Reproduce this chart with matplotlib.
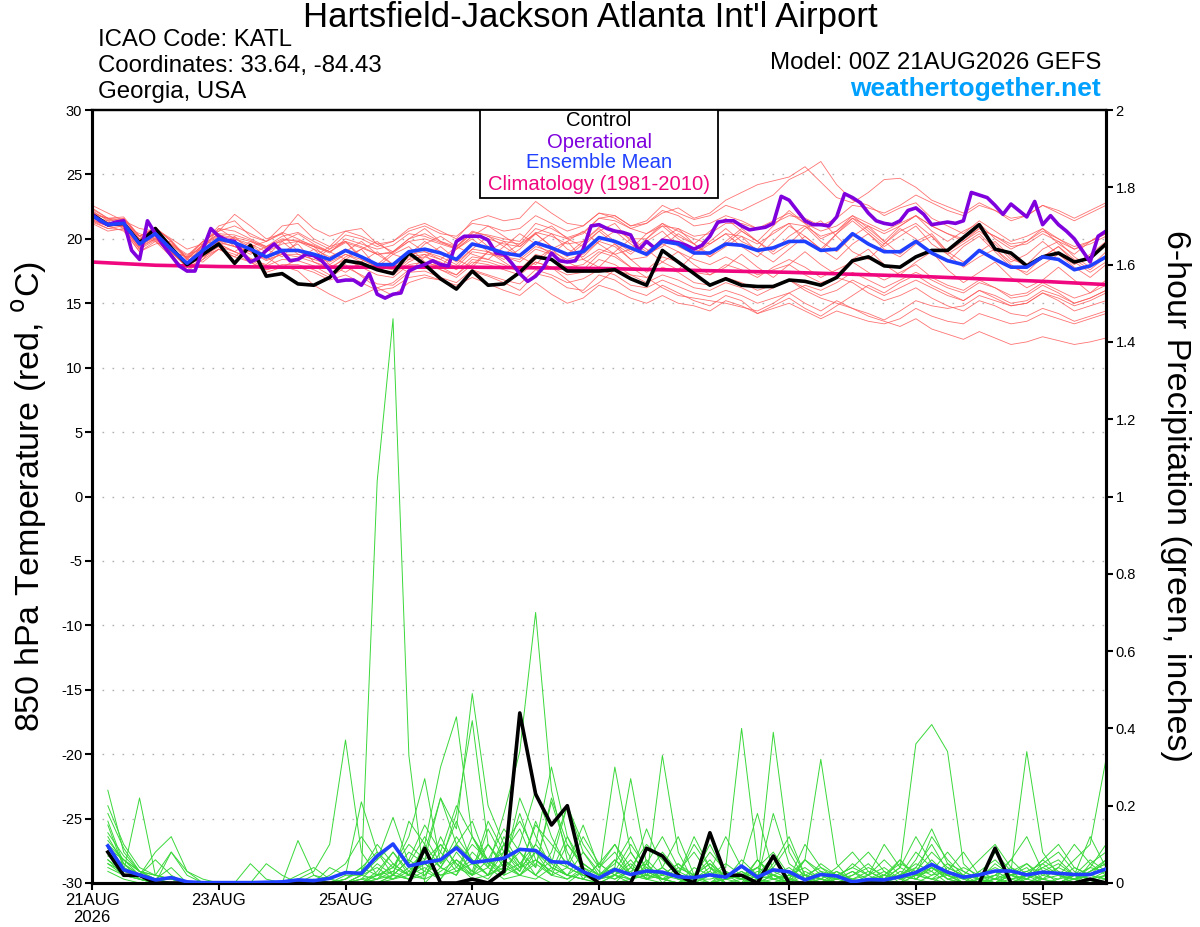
import numpy as np
import matplotlib
matplotlib.use("Agg")
import matplotlib.pyplot as plt
from matplotlib.patches import Rectangle

plt.rcParams["font.family"] = ["Liberation Sans", "DejaVu Sans"]
plt.rcParams["axes.unicode_minus"] = False

# ---- data, read off the GEFS plume for KATL, 00Z 21AUG2026 ----
# time in days from 00Z 21AUG, 6-hourly (ensemble) and 3-hourly (operational)
t6 = np.arange(65) * 0.25
t3 = np.arange(129) * 0.125
tp = t6[1:]
clim_days = np.arange(17)

date_ticks = [0, 2, 4, 6, 8, 11, 13, 15]
date_labels = ["21AUG\n2026", "23AUG", "25AUG", "27AUG", "29AUG", "1SEP", "3SEP", "5SEP"]

ens_mean_t = [21.8, 21.1, 21.2, 19.6, 20.4, 19.2, 18.1, 19.1, 20.0, 19.7, 19.2, 18.6, 19.1,
              19.1, 18.8, 18.4, 19.1, 18.6, 18.0, 18.0, 19.0, 19.2, 18.9, 18.4, 19.6, 19.3,
              18.9, 18.7, 19.7, 19.3, 18.8, 19.0, 20.1, 19.8, 19.3, 18.8, 19.8, 19.6, 18.9,
              18.9, 19.6, 19.5, 19.1, 19.3, 19.8, 19.8, 19.1, 19.2, 20.4, 19.6, 19.0, 19.0,
              19.8, 18.9, 18.3, 18.0, 19.1, 18.4, 17.8, 17.8, 18.6, 18.4, 17.6, 17.9, 18.6]

control_t = [21.9, 21.1, 21.2, 19.7, 20.8, 19.3, 18.0, 18.8, 19.6, 18.1, 19.5, 17.1, 17.3,
             16.5, 16.4, 17.0, 18.3, 18.1, 17.6, 17.3, 18.9, 18.0, 16.9, 16.1, 17.5, 16.4,
             16.5, 17.4, 18.6, 18.4, 17.5, 17.5, 17.5, 17.6, 16.9, 16.4, 19.1, 18.2, 17.3,
             16.4, 16.9, 16.4, 16.3, 16.3, 16.8, 16.7, 16.4, 17.0, 18.3, 18.6, 17.9, 17.8,
             18.6, 19.1, 19.1, 20.1, 21.1, 19.2, 18.9, 17.9, 18.6, 18.9, 18.2, 18.5, 19.6]

oper_t = [21.9, 21.4, 21.1, 21.3, 21.4, 19.1, 18.4, 21.4, 20.4, 19.5,
          18.7, 17.9, 17.5, 17.5, 19.2, 20.8, 20.2, 19.9, 19.8, 18.9,
          18.2, 18.5, 19.1, 19.6, 19.0, 18.3, 18.4, 18.8, 18.7, 18.3,
          17.6, 16.7, 16.8, 16.8, 16.4, 17.3, 15.7, 15.4, 15.7, 15.8,
          17.5, 17.8, 18.0, 18.3, 18.0, 17.9, 19.8, 20.2, 20.2, 20.2,
          19.9, 18.9, 18.8, 18.1, 17.3, 16.7, 17.1, 17.8, 18.9, 18.3,
          18.2, 18.3, 19.2, 21.0, 21.1, 20.8, 20.6, 20.5, 20.3, 19.1,
          19.8, 19.3, 19.9, 19.8, 19.7, 19.5, 19.2, 19.5, 20.2, 21.3,
          21.4, 21.4, 21.0, 20.7, 20.8, 20.9, 21.2, 23.3, 23.0, 22.2,
          21.4, 21.1, 21.1, 21.0, 21.7, 23.5, 23.2, 22.8, 22.0, 21.4,
          21.2, 21.1, 21.4, 22.2, 22.4, 21.9, 21.1, 21.2, 21.3, 21.2,
          21.4, 23.6, 23.4, 23.2, 22.6, 21.9, 22.7, 22.2, 21.7, 22.9,
          21.1, 21.8, 21.1, 20.6, 20.0, 19.1, 18.2, 20.2, 20.6]

clim_t = [18.2, 17.95, 17.85, 17.8, 17.8, 17.8, 17.8, 17.75, 17.7, 17.6, 17.5, 17.4,
          17.25, 17.1, 16.9, 16.7, 16.45]

members_t = [
    [22.2, 21.4, 21.6, 20.0, 20.9, 19.8, 18.4, 19.6, 20.8, 20.6, 20.0, 19.4, 20.2,
     20.5, 19.8, 19.2, 20.3, 20.0, 19.4, 19.8, 20.6, 21.0, 20.4, 20.2, 21.2, 21.0,
     20.6, 20.8, 21.8, 21.2, 20.6, 21.0, 22.0, 21.8, 21.0, 21.4, 22.6, 22.0, 21.5,
     21.8, 22.6, 22.2, 22.8, 23.4, 24.6, 25.2, 26.0, 24.2, 23.0, 22.6, 21.8, 22.4,
     22.8, 21.6, 21.0, 20.4, 21.4, 20.6, 19.8, 20.2, 20.8, 20.0, 19.2, 19.8, 20.4],
    [21.5, 21.0, 21.3, 19.9, 20.6, 19.5, 18.7, 19.8, 20.6, 21.0, 20.4, 19.8, 20.5,
     20.0, 19.4, 18.9, 20.0, 19.6, 19.2, 19.5, 20.4, 20.2, 19.7, 19.3, 20.5, 20.3,
     20.0, 19.8, 21.2, 20.8, 20.1, 20.5, 21.6, 21.4, 20.8, 21.2, 22.0, 22.4, 21.6,
     22.0, 23.0, 23.6, 24.2, 24.5, 24.8, 25.6, 24.4, 23.2, 22.8, 23.6, 24.6, 24.7,
     24.0, 23.0, 22.5, 22.0, 22.8, 22.2, 21.4, 21.8, 22.6, 22.0, 21.4, 22.0, 22.6],
    [21.3, 20.8, 20.7, 19.0, 19.8, 18.6, 17.6, 18.4, 19.2, 18.8, 18.2, 17.6, 18.0,
     18.0, 17.6, 17.0, 17.8, 17.2, 16.5, 16.4, 17.4, 17.5, 17.0, 16.6, 17.6, 17.2,
     16.8, 16.5, 17.6, 17.2, 16.6, 16.9, 17.6, 17.2, 16.4, 16.2, 16.8, 16.3, 15.8,
     15.5, 16.0, 15.6, 15.0, 15.4, 15.8, 15.0, 14.4, 15.2, 14.6, 14.0, 13.6, 13.2,
     13.8, 13.0, 12.6, 12.2, 12.8, 12.3, 11.8, 12.0, 12.4, 12.1, 11.8, 12.0, 12.3],
    [21.6, 21.3, 20.9, 19.3, 20.0, 18.9, 17.9, 18.6, 19.4, 19.0, 18.5, 17.9, 18.4,
     18.3, 17.9, 17.2, 18.0, 17.1, 16.2, 15.6, 16.6, 17.0, 16.8, 16.2, 17.5, 17.1,
     16.6, 16.0, 17.3, 17.0, 16.2, 16.0, 17.2, 16.8, 16.0, 15.6, 16.4, 15.8, 15.2,
     14.8, 15.6, 15.2, 14.2, 14.8, 15.4, 14.6, 14.0, 14.8, 15.6, 16.4, 15.8, 16.6,
     17.2, 16.4, 15.8, 15.2, 16.0, 15.4, 14.8, 15.0, 15.8, 15.2, 14.4, 14.8, 15.2],
    [22.0, 21.6, 21.0, 20.4, 20.0, 19.0, 18.6, 18.8, 19.4, 20.2, 19.0, 18.6, 19.8,
     20.4, 19.6, 19.0, 18.4, 19.2, 19.8, 18.8, 18.4, 19.6, 20.2, 19.4, 18.8, 18.4,
     19.4, 20.4, 19.6, 18.8, 19.8, 20.6, 19.6, 18.8, 19.2, 20.4, 21.0, 20.0, 19.2,
     18.6, 19.8, 20.8, 19.8, 18.8, 19.6, 20.8, 21.4, 20.2, 19.0, 18.4, 19.6, 20.8,
     20.0, 18.8, 18.2, 19.4, 20.2, 19.0, 17.8, 17.4, 18.6, 19.4, 18.2, 17.4, 18.2],
    [21.4, 21.0, 20.6, 19.0, 19.6, 19.8, 18.4, 18.2, 19.2, 18.6, 19.6, 18.6, 17.8,
     18.4, 19.2, 18.0, 17.4, 18.2, 19.0, 18.0, 17.4, 18.6, 19.4, 18.4, 17.8, 19.0,
     19.8, 18.6, 18.0, 19.2, 19.8, 18.4, 17.8, 19.0, 20.0, 19.2, 18.2, 17.6, 18.8,
     19.6, 20.4, 19.4, 18.6, 19.8, 21.0, 20.2, 19.2, 20.4, 21.6, 20.6, 19.6, 20.6,
     21.2, 20.2, 19.0, 19.8, 20.6, 19.6, 18.4, 18.0, 19.2, 19.8, 18.6, 17.8, 19.0],
    [22.4, 21.6, 21.5, 20.2, 20.8, 19.9, 18.5, 19.8, 20.6, 21.9, 21.0, 20.0, 20.4,
     21.9, 20.8, 20.2, 20.6, 20.2, 19.6, 19.8, 20.8, 21.2, 20.6, 20.0, 21.4, 21.8,
     21.4, 21.6, 22.9, 22.0, 21.2, 21.0, 22.0, 21.6, 20.8, 20.4, 21.2, 20.6, 20.0,
     19.6, 20.4, 20.2, 19.6, 20.4, 21.2, 21.0, 20.2, 20.6, 21.6, 21.0, 20.4, 21.0,
     21.8, 21.0, 20.4, 19.8, 20.8, 20.2, 19.4, 19.6, 20.4, 19.8, 19.2, 19.6, 20.2],
    [21.7, 21.4, 20.8, 19.2, 20.6, 19.4, 17.8, 18.4, 19.8, 19.8, 18.4, 18.0, 19.0,
     19.6, 18.2, 17.6, 18.6, 19.2, 17.8, 17.2, 18.2, 18.8, 17.6, 17.0, 18.0, 19.0,
     18.2, 17.4, 18.4, 19.2, 18.2, 17.6, 18.8, 19.6, 18.4, 17.4, 18.2, 19.0, 18.0,
     17.2, 17.8, 18.8, 17.8, 17.0, 18.0, 19.0, 18.0, 17.2, 18.4, 19.2, 18.0, 17.2,
     18.2, 19.0, 17.6, 16.6, 17.4, 18.2, 17.0, 16.2, 16.8, 17.8, 16.8, 15.8, 16.8],
    [21.9, 21.0, 21.1, 19.5, 20.2, 19.0, 17.8, 18.8, 19.6, 19.0, 18.4, 17.6, 17.9,
     17.5, 16.4, 15.7, 15.1, 15.6, 16.2, 16.6, 17.6, 18.0, 17.6, 17.2, 18.4, 18.2,
     17.8, 17.6, 18.8, 18.4, 17.8, 18.0, 19.0, 18.6, 17.8, 17.6, 18.6, 18.2, 17.4,
     17.2, 18.0, 17.6, 17.0, 17.8, 18.4, 17.8, 17.0, 17.6, 18.2, 17.4, 16.8, 17.4,
     18.0, 17.0, 16.4, 16.0, 16.8, 16.2, 15.4, 15.6, 16.4, 15.8, 15.0, 15.4, 16.0],
    [22.6, 22.0, 21.4, 20.8, 20.6, 19.6, 18.8, 19.2, 20.8, 20.0, 19.4, 19.8, 20.4,
     19.0, 18.6, 19.4, 19.8, 18.6, 18.0, 19.0, 19.8, 19.0, 18.4, 19.4, 20.4, 19.4,
     18.8, 19.6, 20.4, 19.4, 18.8, 19.8, 20.8, 19.8, 19.0, 20.0, 21.2, 20.2, 19.6,
     20.6, 21.6, 20.6, 19.8, 21.0, 22.2, 21.2, 20.0, 20.6, 21.8, 20.8, 19.8, 21.0,
     21.8, 20.6, 19.8, 20.6, 21.2, 20.0, 19.2, 19.8, 20.8, 19.6, 18.8, 19.8, 20.6],
    [21.2, 20.6, 20.8, 19.2, 19.9, 18.8, 17.4, 18.6, 19.2, 18.6, 18.2, 17.4, 17.8,
     17.8, 17.4, 16.8, 17.2, 16.6, 16.0, 16.2, 17.0, 17.2, 16.8, 16.4, 17.0, 16.5,
     16.0, 15.6, 16.6, 15.7, 15.0, 15.4, 16.4, 16.0, 15.4, 15.0, 15.6, 15.0, 14.8,
     14.4, 15.2, 14.8, 14.2, 14.6, 15.0, 14.4, 13.8, 14.4, 14.0, 13.6, 13.4, 13.8,
     14.6, 14.0, 13.6, 13.4, 14.2, 13.8, 13.4, 13.6, 14.2, 13.8, 13.4, 13.8, 14.2],
    [21.9, 21.0, 21.6, 20.2, 19.8, 19.0, 18.6, 19.8, 19.6, 19.0, 19.8, 19.2, 18.6,
     19.8, 19.4, 18.4, 19.0, 19.8, 18.8, 18.0, 18.8, 19.8, 19.0, 18.2, 19.2, 20.2,
     19.4, 18.6, 19.6, 20.4, 19.2, 18.6, 19.8, 20.6, 19.6, 18.8, 19.4, 20.4, 19.6,
     18.8, 19.6, 20.6, 19.8, 19.0, 20.2, 21.0, 19.8, 19.0, 20.2, 21.0, 19.8, 18.8,
     19.8, 20.4, 19.0, 18.2, 19.0, 19.8, 18.6, 17.8, 18.6, 19.4, 18.4, 17.6, 18.6],
    [21.5, 21.0, 21.0, 19.7, 20.4, 19.3, 18.2, 19.4, 20.2, 20.0, 19.6, 19.0, 19.6,
     19.8, 19.2, 18.6, 19.2, 18.6, 17.8, 17.6, 18.6, 18.8, 18.4, 17.8, 19.0, 18.8,
     18.6, 18.4, 19.4, 19.0, 18.4, 18.8, 19.8, 19.4, 18.4, 18.6, 19.6, 19.0, 18.4,
     18.0, 18.6, 18.0, 17.2, 17.6, 18.0, 17.2, 16.6, 17.0, 16.6, 15.8, 15.2, 15.6,
     16.2, 15.4, 14.8, 14.4, 15.2, 14.8, 14.2, 14.0, 14.6, 14.2, 13.6, 14.0, 14.4],
    [22.1, 21.5, 21.4, 20.0, 20.7, 19.6, 18.4, 19.5, 20.3, 20.1, 19.8, 19.4, 20.0,
     19.8, 19.4, 19.0, 19.8, 19.4, 18.8, 19.0, 20.0, 20.4, 19.8, 19.4, 20.6, 20.2,
     19.8, 19.6, 20.8, 20.4, 20.0, 20.4, 21.6, 21.8, 21.0, 21.2, 22.2, 21.8, 21.0,
     21.2, 21.8, 21.4, 20.8, 21.4, 22.0, 21.2, 20.6, 21.0, 21.8, 21.2, 20.6, 21.2,
     21.8, 21.0, 20.4, 20.0, 20.8, 20.2, 19.6, 19.8, 20.6, 20.0, 19.4, 19.8, 20.4],
    [21.6, 21.1, 21.0, 19.5, 20.1, 19.0, 17.9, 18.9, 19.7, 19.4, 19.0, 18.4, 18.8,
     18.8, 18.4, 18.0, 18.8, 18.2, 17.6, 17.4, 18.4, 18.6, 18.2, 17.6, 18.6, 18.4,
     18.0, 17.4, 18.2, 17.8, 16.8, 15.8, 16.6, 17.6, 17.2, 16.6, 17.2, 16.8, 16.2,
     16.0, 16.6, 16.2, 15.6, 16.2, 16.8, 16.2, 15.6, 16.0, 16.8, 16.2, 15.6, 16.2,
     16.8, 16.2, 15.6, 15.2, 16.0, 15.6, 15.0, 15.2, 16.0, 15.6, 15.0, 15.4, 16.0],
    [21.8, 21.2, 21.0, 19.4, 20.8, 19.0, 17.8, 19.6, 20.4, 19.4, 18.8, 19.4, 19.8,
     18.8, 18.4, 19.2, 19.8, 18.4, 17.8, 18.8, 19.4, 18.2, 17.8, 19.2, 20.0, 19.0,
     18.4, 19.2, 20.4, 19.4, 18.6, 19.6, 20.6, 19.6, 18.8, 19.8, 20.6, 19.4, 18.8,
     19.8, 20.8, 19.8, 19.2, 20.6, 21.2, 19.8, 19.0, 20.4, 21.4, 20.4, 19.4, 20.2,
     21.0, 19.6, 18.8, 19.6, 20.4, 19.2, 18.2, 18.8, 19.8, 18.8, 18.0, 18.8, 19.8],
    [21.7, 21.0, 21.2, 19.6, 20.3, 19.2, 18.1, 19.0, 19.9, 19.6, 19.0, 18.5, 19.0,
     19.0, 18.6, 18.2, 18.8, 18.4, 17.8, 17.8, 18.8, 19.0, 18.6, 18.0, 19.2, 19.0,
     18.6, 18.2, 19.2, 18.8, 18.2, 18.4, 19.2, 18.8, 17.8, 17.0, 16.2, 15.6, 15.4,
     15.2, 15.0, 14.7, 14.4, 15.0, 15.8, 16.4, 16.0, 16.6, 17.4, 16.8, 16.2, 16.8,
     17.4, 16.8, 16.2, 15.8, 16.6, 16.2, 15.6, 15.8, 16.6, 16.0, 15.4, 15.8, 16.4],
    [22.3, 21.6, 21.7, 20.2, 20.9, 19.8, 18.5, 19.5, 20.4, 20.3, 19.9, 19.3, 19.9,
     19.9, 19.5, 19.0, 19.7, 19.3, 18.8, 18.9, 19.8, 20.0, 19.6, 19.2, 20.2, 20.0,
     19.6, 19.4, 20.5, 20.2, 19.6, 19.8, 20.9, 20.7, 20.0, 20.0, 21.0, 20.8, 20.2,
     20.4, 21.2, 21.2, 20.8, 21.2, 21.8, 21.6, 21.0, 21.6, 22.6, 22.4, 22.0, 22.6,
     23.4, 22.8, 22.2, 21.8, 22.6, 22.2, 21.6, 21.8, 22.6, 22.2, 21.6, 22.2, 22.8],
    [21.4, 20.8, 21.0, 19.4, 20.0, 19.0, 17.8, 18.9, 19.8, 19.4, 19.0, 18.3, 18.8,
     18.6, 18.2, 17.8, 18.4, 17.8, 17.2, 17.0, 18.0, 18.2, 17.8, 17.2, 18.2, 18.0,
     17.6, 17.2, 18.2, 17.8, 17.2, 17.4, 18.4, 18.0, 17.2, 17.0, 17.8, 17.4, 16.6,
     16.4, 17.0, 16.6, 16.0, 16.4, 16.8, 16.0, 15.4, 15.0, 14.6, 14.2, 13.7, 14.4,
     15.2, 14.8, 14.6, 14.8, 15.6, 15.2, 14.8, 15.0, 15.8, 15.4, 14.8, 15.2, 15.8],
    [21.9, 21.6, 21.0, 20.2, 20.8, 20.0, 19.2, 19.6, 21.0, 21.4, 20.2, 19.8, 21.0,
     21.2, 20.0, 19.4, 20.6, 20.8, 19.6, 19.0, 20.0, 20.8, 19.8, 19.2, 20.2, 21.0,
     20.2, 19.4, 20.4, 21.0, 20.0, 19.4, 20.6, 21.2, 19.8, 19.0, 20.0, 20.8, 19.6,
     18.6, 19.4, 20.2, 19.0, 18.2, 19.2, 20.2, 19.2, 18.4, 19.6, 20.4, 19.2, 18.6,
     19.6, 20.2, 18.8, 17.8, 18.6, 19.2, 18.0, 17.2, 18.0, 18.8, 17.8, 17.0, 18.0],
]

# 6-hour precipitation (inches), first value is 06Z 21AUG
ens_mean_p = [0.096, 0.034, 0.021, 0.008, 0.014, 0.003, 0.001, 0.001, 0.001, 0.001, 0.002, 0.003, 0.008, 0.006, 0.012, 0.027,
              0.025, 0.070, 0.101, 0.044, 0.053, 0.060, 0.091, 0.053, 0.058, 0.064, 0.087, 0.084, 0.055, 0.053, 0.029, 0.013,
              0.035, 0.022, 0.031, 0.028, 0.016, 0.014, 0.021, 0.015, 0.044, 0.015, 0.034, 0.029, 0.008, 0.022, 0.018, 0.003,
              0.009, 0.008, 0.016, 0.027, 0.048, 0.028, 0.015, 0.021, 0.031, 0.031, 0.021, 0.028, 0.025, 0.022, 0.022, 0.036]

control_p = [0.08, 0.02, 0.02, 0, 0, 0, 0, 0, 0, 0, 0, 0, 0, 0, 0, 0,
             0, 0, 0, 0, 0.09, 0, 0, 0.01, 0, 0.03, 0.44, 0.23, 0.15, 0.20, 0.03, 0,
             0, 0, 0.09, 0.07, 0.02, 0, 0.13, 0.02, 0.02, 0, 0.07, 0, 0, 0, 0, 0,
             0, 0, 0, 0, 0, 0, 0, 0, 0.09, 0, 0, 0, 0, 0, 0.01, 0]

members_p = [
    [0.06, 0.02, 0.01, 0, 0, 0, 0, 0, 0, 0, 0, 0, 0, 0, 0, 0.02,
     0.02, 1.04, 1.46, 0.33, 0, 0.04, 0.10, 0.06, 0.02, 0.12, 0.05, 0.02, 0, 0, 0.03, 0,
     0.02, 0, 0.05, 0, 0, 0.01, 0.03, 0, 0, 0.06, 0.02, 0, 0, 0.01, 0, 0,
     0, 0, 0.02, 0.05, 0.03, 0, 0, 0.01, 0, 0.02, 0.04, 0, 0, 0.01, 0, 0.02],
    [0.10, 0.04, 0.02, 0.01, 0, 0, 0, 0, 0, 0, 0, 0, 0, 0, 0, 0,
     0, 0, 0.02, 0.06, 0.15, 0.08, 0.20, 0.12, 0.04, 0.18, 0.34, 0.70, 0.24, 0.06, 0.02, 0,
     0, 0.04, 0.10, 0.06, 0.02, 0, 0, 0.03, 0.01, 0, 0.05, 0.12, 0.02, 0, 0, 0.01,
     0.02, 0, 0, 0.04, 0.10, 0.03, 0, 0, 0.01, 0.06, 0.02, 0, 0, 0, 0.03, 0.05],
    [0.24, 0.08, 0.03, 0.01, 0, 0, 0, 0, 0, 0, 0, 0, 0.01, 0.03, 0.10, 0.37,
     0.08, 0.02, 0.04, 0.12, 0.27, 0.05, 0.10, 0.02, 0.06, 0.14, 0.08, 0.04, 0.22, 0.10, 0.05, 0.02,
     0.30, 0.08, 0.02, 0.01, 0, 0.02, 0.05, 0.01, 0, 0.02, 0.07, 0.01, 0, 0, 0.03, 0,
     0, 0.02, 0.06, 0.01, 0, 0.03, 0.08, 0.02, 0, 0, 0.01, 0.04, 0.02, 0, 0.05, 0.08],
    [0.08, 0.03, 0.22, 0.02, 0.01, 0, 0, 0, 0, 0, 0, 0, 0, 0, 0.02, 0.05,
     0.12, 0.06, 0.10, 0.04, 0.08, 0.22, 0.14, 0.49, 0.20, 0.10, 0.16, 0.08, 0.05, 0.20, 0.08, 0.02,
     0.04, 0.27, 0.05, 0.01, 0.02, 0.10, 0.04, 0, 0, 0.01, 0.02, 0, 0.06, 0.03, 0, 0,
     0.01, 0, 0.02, 0.08, 0.04, 0.01, 0, 0, 0.02, 0.06, 0.12, 0.03, 0, 0.01, 0.02, 0.01],
    [0.12, 0.05, 0.02, 0.08, 0.12, 0.03, 0, 0, 0, 0, 0, 0, 0, 0.01, 0, 0.01,
     0.04, 0.08, 0.02, 0.16, 0.10, 0.30, 0.43, 0.12, 0.05, 0.08, 0.04, 0.15, 0.10, 0.05, 0.15, 0.04,
     0.10, 0.02, 0.01, 0.33, 0.08, 0, 0.02, 0.04, 0.40, 0.06, 0.01, 0, 0.02, 0, 0.01, 0.03,
     0, 0.01, 0.06, 0.02, 0.01, 0, 0, 0.03, 0.01, 0, 0.02, 0.06, 0.10, 0.04, 0.02, 0.01],
    [0.05, 0.02, 0.01, 0, 0.08, 0.02, 0, 0, 0, 0.05, 0.01, 0, 0.11, 0.02, 0, 0,
     0.02, 0.06, 0.17, 0.05, 0.12, 0.05, 0.18, 0.42, 0.10, 0.04, 0.22, 0.12, 0.04, 0.02, 0.01, 0.05,
     0.02, 0.05, 0.01, 0.04, 0.12, 0.02, 0, 0.01, 0.03, 0, 0.39, 0.08, 0.01, 0.02, 0, 0,
     0.01, 0.03, 0.01, 0.06, 0.14, 0.05, 0.01, 0, 0, 0.02, 0.03, 0.01, 0, 0.02, 0.06, 0.03],
    [0.15, 0.04, 0.01, 0, 0, 0, 0, 0, 0, 0, 0, 0, 0, 0, 0.04, 0.02,
     0.21, 0.08, 0.04, 0.10, 0.06, 0.22, 0.10, 0.16, 0.05, 0.02, 0.10, 0.24, 0.12, 0.04, 0.02, 0.01,
     0.06, 0.02, 0.14, 0.04, 0.01, 0, 0, 0.02, 0.01, 0, 0.02, 0.01, 0.06, 0.32, 0.05, 0,
     0, 0, 0.02, 0.01, 0.04, 0.02, 0, 0.01, 0.08, 0.03, 0, 0, 0.01, 0.02, 0.12, 0.04],
    [0.20, 0.10, 0.04, 0.02, 0.01, 0, 0, 0, 0, 0, 0, 0, 0, 0, 0, 0,
     0, 0.03, 0.08, 0.02, 0.04, 0.01, 0.06, 0.03, 0.16, 0.08, 0.14, 0.04, 0.21, 0.08, 0.01, 0,
     0.02, 0.06, 0.01, 0, 0.03, 0.08, 0.02, 0, 0.01, 0.04, 0.02, 0, 0, 0.02, 0.01, 0.05,
     0.02, 0.10, 0.04, 0.36, 0.41, 0.34, 0.05, 0.01, 0, 0.02, 0.05, 0.01, 0.04, 0.02, 0, 0.01],
    [0.06, 0.03, 0.02, 0.01, 0.04, 0, 0, 0, 0, 0, 0, 0, 0, 0, 0, 0.01,
     0.03, 0.10, 0.05, 0.02, 0.08, 0.04, 0.12, 0.06, 0.02, 0.05, 0.18, 0.06, 0.03, 0.12, 0.05, 0.02,
     0.01, 0.03, 0.05, 0.12, 0.04, 0.02, 0.10, 0.02, 0, 0.01, 0.18, 0.05, 0.02, 0.01, 0, 0.02,
     0.05, 0.01, 0.04, 0.02, 0.12, 0.06, 0.02, 0.01, 0, 0.03, 0.34, 0.08, 0.02, 0.01, 0.03, 0.05],
    [0.09, 0.06, 0.03, 0.01, 0, 0, 0, 0, 0, 0, 0, 0, 0, 0, 0, 0,
     0.01, 0.02, 0.03, 0.08, 0.05, 0.02, 0.04, 0.10, 0.06, 0.03, 0.05, 0.10, 0.30, 0.12, 0.03, 0.01,
     0.03, 0.10, 0.04, 0.02, 0.05, 0.01, 0.01, 0.02, 0.04, 0.18, 0.03, 0.01, 0, 0, 0.02, 0.04,
     0.08, 0.03, 0, 0.02, 0.06, 0.02, 0, 0.01, 0.05, 0.02, 0.01, 0.03, 0.02, 0.06, 0.10, 0.32],
    [0.04, 0.02, 0.01, 0, 0, 0, 0, 0, 0, 0, 0, 0, 0, 0, 0, 0,
     0, 0.01, 0.02, 0.01, 0.03, 0.01, 0.08, 0.03, 0.01, 0.06, 0.02, 0.01, 0.04, 0.02, 0.01, 0,
     0, 0.01, 0.02, 0.01, 0, 0.04, 0.02, 0, 0, 0.02, 0.01, 0, 0.03, 0.01, 0, 0,
     0, 0.01, 0.02, 0.01, 0.05, 0.02, 0, 0, 0.01, 0.02, 0.01, 0, 0, 0.02, 0.01, 0],
    [0.07, 0.05, 0.02, 0.06, 0.02, 0, 0, 0, 0, 0, 0, 0, 0.02, 0.04, 0.01, 0,
     0.02, 0.01, 0.05, 0.02, 0.10, 0.04, 0.02, 0.08, 0.04, 0.10, 0.05, 0.02, 0.08, 0.20, 0.10, 0.04,
     0.08, 0.02, 0.04, 0.01, 0.02, 0.12, 0.04, 0.01, 0.06, 0.02, 0.04, 0.10, 0.02, 0.01, 0.04, 0.08,
     0.03, 0.01, 0.04, 0.12, 0.05, 0.01, 0.02, 0.06, 0.10, 0.04, 0.01, 0.05, 0.08, 0.03, 0.01, 0.02],
    [0.11, 0.06, 0.02, 0.01, 0.01, 0, 0, 0, 0, 0, 0, 0, 0, 0, 0, 0.01,
     0.04, 0.02, 0.08, 0.03, 0.01, 0.12, 0.04, 0.02, 0.10, 0.05, 0.02, 0.06, 0.03, 0.01, 0.04, 0.02,
     0.05, 0.12, 0.03, 0.01, 0, 0.02, 0.05, 0.02, 0.01, 0.06, 0.02, 0.04, 0.01, 0, 0.01, 0.03,
     0.01, 0.02, 0.01, 0.03, 0.08, 0.04, 0.02, 0, 0.01, 0.03, 0.05, 0.02, 0.01, 0.04, 0.02, 0.06],
    [0.03, 0.01, 0, 0, 0, 0, 0, 0, 0, 0, 0, 0, 0, 0, 0, 0,
     0, 0, 0.01, 0.04, 0.02, 0.06, 0.16, 0.05, 0.10, 0.04, 0.08, 0.02, 0.06, 0.04, 0.02, 0.01,
     0.02, 0.01, 0.06, 0.02, 0.01, 0, 0.02, 0.05, 0.02, 0, 0.01, 0.02, 0.04, 0.01, 0, 0,
     0.01, 0, 0.03, 0.02, 0.01, 0.04, 0.02, 0.01, 0, 0.01, 0.02, 0.03, 0.05, 0.02, 0.01, 0.03],
    [0.13, 0.07, 0.03, 0.02, 0.08, 0.03, 0.01, 0, 0, 0, 0, 0, 0, 0, 0, 0,
     0.01, 0.05, 0.02, 0.01, 0.06, 0.10, 0.05, 0.02, 0.14, 0.06, 0.03, 0.10, 0.05, 0.02, 0.08, 0.03,
     0.01, 0.04, 0.02, 0.08, 0.03, 0.01, 0, 0.01, 0.03, 0.01, 0, 0.02, 0.06, 0.02, 0.01, 0,
     0.02, 0.04, 0.01, 0, 0.02, 0.05, 0.03, 0.01, 0.02, 0.01, 0, 0.02, 0.04, 0.10, 0.05, 0.02],
    [0.18, 0.09, 0.03, 0.01, 0, 0, 0, 0, 0, 0, 0, 0, 0, 0, 0, 0,
     0, 0.02, 0.04, 0.02, 0.01, 0.03, 0.06, 0.02, 0.04, 0.01, 0.02, 0.05, 0.02, 0.10, 0.04, 0.01,
     0.03, 0.01, 0.02, 0.04, 0.01, 0.02, 0.08, 0.03, 0.01, 0, 0.02, 0.01, 0, 0.01, 0.03, 0.01,
     0, 0.01, 0, 0.02, 0.04, 0.01, 0, 0.03, 0.06, 0.02, 0, 0.01, 0.02, 0.01, 0.04, 0.10],
    [0.05, 0.03, 0.02, 0.01, 0.01, 0, 0, 0, 0, 0, 0.05, 0.02, 0, 0, 0, 0,
     0.01, 0, 0.02, 0.06, 0.03, 0.10, 0.05, 0.01, 0.02, 0.08, 0.03, 0.16, 0.06, 0.02, 0.01, 0.05,
     0.10, 0.04, 0.01, 0.02, 0.05, 0.02, 0, 0.01, 0.02, 0.04, 0.01, 0.02, 0.01, 0.05, 0.02, 0,
     0.01, 0.02, 0.05, 0.03, 0.01, 0.02, 0.04, 0.02, 0.01, 0, 0.02, 0.06, 0.03, 0.01, 0.02, 0.04],
    [0.09, 0.04, 0.01, 0, 0, 0, 0, 0, 0, 0, 0, 0, 0, 0.02, 0.01, 0,
     0.02, 0.04, 0.01, 0.02, 0.05, 0.02, 0.03, 0.06, 0.02, 0.10, 0.04, 0.06, 0.02, 0.04, 0.12, 0.05,
     0.02, 0.01, 0.03, 0.01, 0.02, 0.01, 0.03, 0.12, 0.04, 0.01, 0, 0.01, 0.02, 0.04, 0.01, 0.02,
     0.04, 0.02, 0.01, 0.02, 0.03, 0.08, 0.03, 0.01, 0.02, 0.04, 0.02, 0.01, 0, 0.02, 0.01, 0.02],
    [0.16, 0.05, 0.01, 0, 0, 0, 0, 0, 0, 0, 0, 0, 0, 0, 0, 0,
     0, 0.01, 0.03, 0.01, 0.02, 0.08, 0.03, 0.05, 0.02, 0.04, 0.02, 0.08, 0.04, 0.02, 0.05, 0.02,
     0.06, 0.02, 0.01, 0.03, 0.02, 0.01, 0.04, 0.02, 0.01, 0.03, 0.02, 0.01, 0.10, 0.04, 0.02, 0.01,
     0.03, 0.01, 0.02, 0.04, 0.02, 0.03, 0.01, 0.02, 0.04, 0.02, 0.03, 0.05, 0.02, 0.01, 0.03, 0.06],
    [0.10, 0.06, 0.03, 0.02, 0.01, 0, 0, 0, 0, 0, 0, 0, 0, 0, 0, 0,
     0, 0.02, 0.01, 0.03, 0.08, 0.04, 0.02, 0.12, 0.06, 0.02, 0.04, 0.08, 0.02, 0.01, 0.03, 0.01,
     0.02, 0.08, 0.02, 0.01, 0.04, 0.02, 0.06, 0.01, 0.02, 0.04, 0.08, 0.02, 0.01, 0.03, 0.02, 0.04,
     0.02, 0.06, 0.02, 0.01, 0.04, 0.02, 0.01, 0.02, 0.03, 0.01, 0.02, 0.04, 0.06, 0.02, 0.04, 0.03],
]

# ---- figure ----
fig = plt.figure(figsize=(12, 9.27), dpi=100)
ax = fig.add_axes([92 / 1200, 1 - 883 / 927, (1106 - 92) / 1200, (883 - 110) / 927])
axp = ax.twinx()

red = "#ff5a5a"
green = "#3ad83a"

for m in members_t:
    ax.plot(t6, m, color=red, lw=0.6, alpha=0.85, zorder=2)
for m in members_p:
    axp.plot(tp, m, color=green, lw=0.7, zorder=2)

ax.plot(clim_days, clim_t, color="#f0077f", lw=2.6, zorder=4)
ax.plot(t6, control_t, color="black", lw=2.6, zorder=5)
ax.plot(t3, oper_t, color="#7f00dd", lw=2.6, zorder=6)
ax.plot(t6, ens_mean_t, color="#2040ff", lw=2.6, zorder=7)

axp.plot(tp, ens_mean_p, color="#2040ff", lw=2.6, zorder=6)
axp.plot(tp, control_p, color="black", lw=2.6, zorder=5)

ax.set_xlim(0, 16)
ax.set_ylim(-30, 30)
axp.set_ylim(0, 2)

ax.set_yticks(np.arange(-30, 31, 5))
axp.set_yticks(np.arange(0, 2.01, 0.2))
axp.set_yticklabels(["0", "0.2", "0.4", "0.6", "0.8", "1", "1.2", "1.4", "1.6", "1.8", "2"])
ax.set_xticks(date_ticks)
ax.set_xticklabels(date_labels)

for y in range(-25, 30, 5):
    ax.axhline(y, color="#b0b0b0", lw=1, ls=(0, (1.2, 6)), zorder=1)

ax.tick_params(axis="both", direction="out", length=5, width=1.5, labelsize=10.5, pad=2)
ax.tick_params(axis="x", labelsize=12, pad=2)
axp.tick_params(axis="y", direction="out", length=5, width=1.5, labelsize=10.5, pad=2)

for a in (ax, axp):
    for s in ("left", "right", "bottom"):
        a.spines[s].set_linewidth(2.2)
    a.spines["top"].set_linewidth(1.6)

# axis titles
fig.text(30 / 1200, 1 - 496 / 927, "850 hPa Temperature (red, $^{\\mathrm{o}}$C)",
         rotation=90, ha="center", va="center", fontsize=24.5)
fig.text(1175 / 1200, 1 - 496 / 927, "6-hour Precipitation (green, inches)",
         rotation=270, ha="center", va="center", fontsize=24.5)

# ---- header text ----
fig.text(0.492, 1 - 18 / 927, "Hartsfield-Jackson Atlanta Int'l Airport", ha="center", va="center", fontsize=25)
fig.text(98 / 1200, 1 - 40 / 927, "ICAO Code: KATL", ha="left", va="center", fontsize=17.3)
fig.text(98 / 1200, 1 - 66 / 927, "Coordinates: 33.64, -84.43", ha="left", va="center", fontsize=17.3)
fig.text(98 / 1200, 1 - 92 / 927, "Georgia, USA", ha="left", va="center", fontsize=17.3)
fig.text(1101 / 1200, 1 - 63 / 927, "Model: 00Z 21AUG2026 GEFS", ha="right", va="center", fontsize=17.3)
fig.text(1101 / 1200, 1 - 89 / 927, "weathertogether.net", ha="right", va="center",
         fontsize=19, fontweight="bold", color="#00a0ff")

# ---- legend box ----
box = Rectangle((480 / 1200, 1 - 198 / 927), (718 - 480) / 1200, (198 - 110) / 927,
                transform=fig.transFigure, facecolor="white", edgecolor="black", lw=1.3, zorder=10)
fig.add_artist(box)
legend_items = [("Control", "black", 121), ("Operational", "#7f00dd", 142),
                ("Ensemble Mean", "#2040ff", 163), ("Climatology (1981-2010)", "#f0077f", 185)]
for label, col, ypix in legend_items:
    fig.text(599 / 1200, 1 - ypix / 927, label, ha="center", va="center", fontsize=14.6, color=col, zorder=11)

fig.savefig("out.png", dpi=100)
